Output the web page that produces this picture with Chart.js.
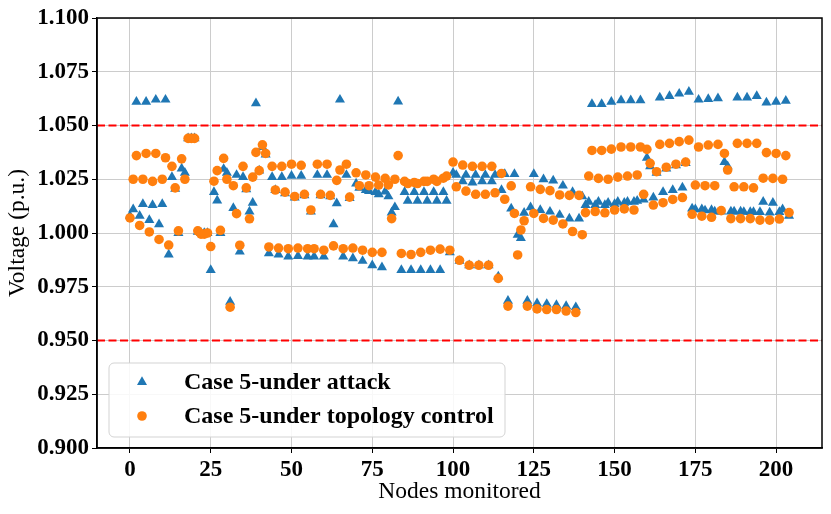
<!DOCTYPE html>
<html>
<head>
<meta charset="utf-8">
<script src="https://cdn.jsdelivr.net/npm/chart.js@4.4.0/dist/chart.umd.min.js"></script>
<style>
html,body{margin:0;padding:0;background:#fff;}
</style>
</head>
<body>
<canvas id="myChart" width="831" height="514"></canvas>
<script>
/*-- data, one value per monitored node (0..204) --*/
const underAttack = [
  1.008, 1.011, 1.061, 1.008, 1.0135, 1.061, 1.006, 1.013, 1.062, 1.004,
  1.0135, 1.062, 0.990, 1.026, 1.0205, 1.000, 1.030, 1.028, 1.044, 1.044,
  1.044, 1.0005, 1.000, 1.000, 1.000, 0.9828, 1.019, 1.0151, 1.000, 1.0298,
  1.028, 0.968, 1.0116, 1.027, 0.9913, 1.026, 1.0203, 1.010, 1.014, 1.0603,
  1.029, 1.040, 1.0365, 0.9905, 1.026, 1.020, 0.990, 1.026, 1.0185, 0.989,
  1.0266, 1.0165, 0.9893, 1.0266, 1.0175, 0.989, 1.010, 0.989, 1.027, 1.0175,
  0.989, 1.027, 1.017, 1.004, 1.0138, 1.062, 0.989, 1.027, 1.0162, 0.9882,
  1.023, 1.021, 0.987, 1.020, 1.0195, 0.985, 1.019, 1.018, 0.984, 1.0193,
  1.017, 1.0095, 1.012, 1.0611, 0.9828, 1.019, 1.015, 0.9828, 1.019, 1.015,
  0.9828, 1.019, 1.015, 0.9828, 1.019, 1.015, 0.9828, 1.019, 1.015, 0.991,
  1.028, 1.027, 0.987, 1.024, 1.027, 0.985, 1.0235, 1.027, 0.985, 1.024,
  1.027, 0.985, 1.024, 1.027, 0.9797, 1.020, 1.0274, 0.9685, 1.0114, 1.0274,
  0.9991, 0.9976, 1.0094, 0.9685, 1.0119, 1.0274, 0.9673, 1.0107, 1.025, 0.967,
  1.0099, 1.0244, 0.9665, 1.0084, 1.022, 0.966, 1.0067, 1.019, 0.9655, 1.0067,
  1.017, 1.013, 1.0145, 1.060, 1.013, 1.0145, 1.060, 1.013, 1.014, 1.061,
  1.0135, 1.0145, 1.0617, 1.014, 1.0145, 1.0617, 1.0145, 1.015, 1.0617, 1.0155,
  1.035, 1.031, 1.0165, 1.028, 1.063, 1.019, 1.030, 1.0637, 1.020, 1.0315,
  1.0648, 1.0211, 1.0325, 1.0657, 1.0114, 1.011, 1.062, 1.011, 1.0105, 1.0623,
  1.0107, 1.010, 1.0626, 1.010, 1.033, 1.031, 1.010, 1.010, 1.063, 1.010,
  1.0098, 1.063, 1.0097, 1.0097, 1.0637, 1.0097, 1.0145, 1.0607, 1.0095, 1.014,
  1.061, 1.0097, 1.011, 1.0615, 1.008
];
const topologyControl = [
  1.007, 1.025, 1.036, 1.0035, 1.025, 1.037, 1.0005, 1.024, 1.037, 0.997,
  1.025, 1.035, 0.9944, 1.031, 1.021, 1.001, 1.0345, 1.025, 1.044, 1.044,
  1.044, 1.001, 0.9995, 0.9995, 1.000, 0.9937, 1.0241, 1.029, 1.0012, 1.0347,
  1.025, 0.9655, 1.022, 1.009, 0.9943, 1.031, 1.021, 1.0066, 1.026, 1.0375,
  1.029, 1.041, 1.037, 0.9935, 1.031, 1.020, 0.993, 1.031, 1.019, 0.9927,
  1.032, 1.017, 0.993, 1.0315, 1.018, 0.9927, 1.0107, 0.9927, 1.032, 1.018,
  0.992, 1.032, 1.0175, 0.994, 1.0245, 1.0293, 0.9927, 1.032, 1.0167, 0.993,
  1.028, 1.022, 0.992, 1.027, 1.022, 0.991, 1.026, 1.0223, 0.991, 1.0254,
  1.0224, 1.0067, 1.025, 1.036, 0.9905, 1.024, 1.023, 0.990, 1.0235, 1.023,
  0.991, 1.024, 1.024, 0.992, 1.025, 1.024, 0.9925, 1.0255, 1.0265, 0.992,
  1.033, 1.0215, 0.9873, 1.0316, 1.0195, 0.985, 1.031, 1.018, 0.985, 1.031,
  1.018, 0.985, 1.031, 1.0187, 0.9789, 1.0277, 1.0157, 0.966, 1.0219, 1.0091,
  0.9898, 1.0014, 1.0057, 0.966, 1.0215, 1.0091, 0.9647, 1.0203, 1.0068, 0.9644,
  1.0197, 1.006, 0.9644, 1.0177, 1.0042, 0.9637, 1.0175, 1.0007, 0.963, 1.0175,
  0.9992, 1.0095, 1.0265, 1.0384, 1.010, 1.0254, 1.0384, 1.0094, 1.025, 1.039,
  1.0107, 1.026, 1.040, 1.0112, 1.0265, 1.040, 1.0107, 1.027, 1.040, 1.018,
  1.0389, 1.0324, 1.013, 1.0285, 1.0412, 1.0141, 1.0306, 1.0417, 1.0156, 1.032,
  1.0425, 1.0165, 1.033, 1.0432, 1.0087, 1.0223, 1.040, 1.0078, 1.022, 1.0409,
  1.0073, 1.022, 1.0412, 1.0104, 1.037, 1.0293, 1.0067, 1.0215, 1.0417, 1.0067,
  1.0215, 1.0417, 1.0067, 1.021, 1.0417, 1.006, 1.0255, 1.0374, 1.006, 1.0254,
  1.037, 1.0065, 1.025, 1.036, 1.0095
];
const nodes = underAttack.map(function(v, i){ return i; });
const xTicks = [0, 25, 50, 75, 100, 125, 150, 175, 200];
const voltageLimits = [0.95, 1.05];
const xRange = [-10.2, 214.2];

const serif = 'Liberation Serif, Times New Roman, serif';

function toPoints(values){
  return values.map(function(v, i){ return {x: nodes[i], y: v}; });
}

/*-- black box around the axes --*/
const frame = {
  id: 'frame',
  afterDraw(chart){
    const ctx = chart.ctx, a = chart.chartArea;
    ctx.save();
    ctx.strokeStyle = '#000';
    ctx.lineWidth = 1.5;
    ctx.strokeRect(a.left, a.top, a.right - a.left, a.bottom - a.top);
    ctx.restore();
  }
};

/*-- legend in the lower left corner, like matplotlib --*/
const boxLegend = {
  id: 'boxLegend',
  afterDraw(chart){
    const ctx = chart.ctx, a = chart.chartArea;
    const x0 = a.left + 12, y0 = a.bottom - 85;
    ctx.save();
    ctx.beginPath();
    ctx.roundRect(x0, y0, 396, 74, 5);
    ctx.fillStyle = 'rgba(255,255,255,0.85)';
    ctx.fill();
    ctx.strokeStyle = '#d3d3d3';
    ctx.lineWidth = 1;
    ctx.stroke();
    let row = 0;
    chart.data.datasets.forEach(function(d){
      if (!d.inLegend) return;
      const y = y0 + 19 + row * 34;
      ctx.fillStyle = d.backgroundColor;
      Chart.helpers.drawPoint(ctx, {pointStyle: d.pointStyle, radius: d.pointRadius, borderWidth: 0, rotation: 0}, x0 + 33, y);
      ctx.fillStyle = '#000';
      ctx.font = 'bold 24px ' + serif;
      ctx.textBaseline = 'middle';
      ctx.textAlign = 'left';
      ctx.fillText(d.label, x0 + 75, y + 1);
      row++;
    });
    ctx.restore();
  }
};

const limitSets = voltageLimits.map(function(v){
  return {
    type: 'line',
    label: 'limit ' + v,
    data: [{x: xRange[0], y: v}, {x: xRange[1], y: v}],
    borderColor: '#ff0000',
    borderWidth: 2,
    borderDash: [8, 3.5],
    pointRadius: 0,
    fill: false,
    order: 3
  };
});

new Chart(document.getElementById('myChart'), {
  type: 'scatter',
  data: {
    datasets: [{
      label: 'Case 5-under attack',
      data: toPoints(underAttack),
      pointStyle: 'triangle',
      pointRadius: 5.8,
      borderWidth: 0,
      backgroundColor: '#1f77b4',
      inLegend: true,
      order: 2
    }, {
      label: 'Case 5-under topology control',
      data: toPoints(topologyControl),
      pointStyle: 'circle',
      pointRadius: 4.8,
      borderWidth: 0,
      backgroundColor: '#ff7f0e',
      inLegend: true,
      order: 1
    }].concat(limitSets)
  },
  options: {
    responsive: false,
    animation: false,
    devicePixelRatio: 1,
    layout: {padding: {top: 18, right: 9, left: 0, bottom: 0}},
    plugins: {legend: {display: false}, tooltip: {enabled: false}},
    scales: {
      x: {
        type: 'linear',
        min: xRange[0],
        max: xRange[1],
        afterBuildTicks: function(s){ s.ticks = xTicks.map(function(v){ return {value: v}; }); },
        afterFit: function(s){ s.height = 66; },
        grid: {color: '#cccccc', lineWidth: 1, tickColor: '#000', tickLength: 5},
        border: {color: '#000', width: 1.5},
        ticks: {color: '#000', padding: 3, maxRotation: 0, font: {family: serif, size: 23, weight: 'bold'}},
        title: {display: true, text: 'Nodes monitored', color: '#000', padding: {top: 0, bottom: 8}, font: {family: serif, size: 23.5}}
      },
      y: {
        min: 0.9,
        max: 1.1,
        afterFit: function(s){ s.width = 97; },
        grid: {color: '#cccccc', lineWidth: 1, tickColor: '#000', tickLength: 5},
        border: {color: '#000', width: 1.5},
        ticks: {
          stepSize: 0.025,
          color: '#000',
          padding: 3,
          font: {family: serif, size: 23, weight: 'bold'},
          callback: function(v){ return Number(v).toFixed(3); }
        },
        title: {display: true, text: 'Voltage (p.u.)', color: '#000', padding: {top: 4, bottom: 0}, font: {family: serif, size: 23.5}}
      }
    }
  },
  plugins: [frame, boxLegend]
});
</script>
</body>
</html>
